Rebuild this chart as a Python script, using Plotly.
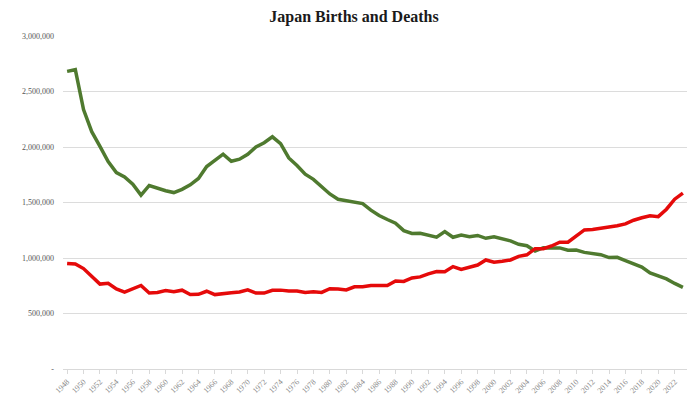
import plotly.graph_objects as go

years = list(range(1948, 2024))
births = [2681624, 2696638, 2337507, 2137689, 2005162, 1868040, 1769580, 1730692, 1665278, 1566713,
          1653469, 1626088, 1606041, 1589372, 1618616, 1659521, 1716761, 1823697, 1880000, 1935647,
          1871839, 1889815, 1934239, 2000973, 2038682, 2091983, 2029989, 1901440, 1832617, 1755100,
          1708643, 1642580, 1576889, 1529455, 1515392, 1508687, 1489780, 1431577, 1382946, 1346658,
          1314006, 1246802, 1221585, 1223245, 1208989, 1188282, 1238328, 1187064, 1206555, 1191665,
          1203147, 1177669, 1190547, 1170662, 1153855, 1123610, 1110721, 1062530, 1092674, 1089818,
          1091156, 1070036, 1071304, 1050806, 1037231, 1029816, 1003539, 1005677, 976978, 946146,
          918400, 865239, 840835, 811622, 770759, 735000]
deaths = [950610, 945444, 904876, 838998, 765068, 772547, 721491, 693523, 724460, 752445,
          684189, 689959, 706599, 695644, 710265, 670770, 673067, 700438, 670342, 675006,
          686555, 693787, 712962, 684521, 683751, 709416, 710510, 702275, 703270, 690074,
          695821, 689664, 722801, 720262, 711883, 740038, 740247, 752283, 750620, 751172,
          793014, 788594, 820305, 829797, 856643, 878532, 875933, 922139, 896211, 913402,
          936484, 982031, 961653, 970331, 982379, 1014951, 1028602, 1083796, 1084451, 1108334,
          1142407, 1141865, 1197014, 1253066, 1256359, 1268436, 1273025, 1290444, 1307748, 1340567,
          1362470, 1381093, 1372755, 1439856, 1530000, 1585000]
y_ticks = [0, 500000, 1000000, 1500000, 2000000, 2500000, 3000000]
y_labels = ["-", "500,000", "1,000,000", "1,500,000", "2,000,000", "2,500,000", "3,000,000"]
x_ticks = list(range(1948, 2023, 2))

fig = go.Figure()
fig.add_trace(go.Scatter(x=years, y=births, mode="lines", name="Births",
                         line=dict(color="#4f7a2f", width=3.5)))
fig.add_trace(go.Scatter(x=years, y=deaths, mode="lines", name="Deaths",
                         line=dict(color="#e50a0a", width=3.5)))

fig.add_shape(type="line", xref="paper", yref="paper", x0=1.016, x1=1.016,
              y0=-0.075, y1=1.084, line=dict(color="#e2e2e2", width=1))

fig.update_layout(
    width=692, height=386,
    margin=dict(l=55, r=13, t=28, b=25),
    paper_bgcolor="white", plot_bgcolor="white",
    showlegend=False,
    title=dict(text="<b>Japan Births and Deaths</b>", x=0.5, xanchor="center",
               y=0.994, yanchor="top", pad=dict(t=0),
               font=dict(family="Liberation Serif", size=16, color="#1a1a1a")),
    xaxis=dict(range=[1947.5, 2023.5], tickmode="array", tickvals=x_ticks,
               ticktext=[str(v) for v in x_ticks], tickangle=-45, automargin=False,
               tickfont=dict(family="Liberation Serif", size=8, color="#8a8a8a"),
               showgrid=False, zeroline=False, showline=True, linecolor="#d9d9d9",
               linewidth=1, ticks="outside", ticklen=4, tickcolor="#d9d9d9"),
    yaxis=dict(range=[0, 3000000], tickmode="array", tickvals=y_ticks, ticktext=y_labels,
               automargin=False,
               tickfont=dict(family="Liberation Serif", size=8, color="#555555"),
               showgrid=True, gridcolor="#dcdcdc", gridwidth=1, zeroline=False,
               showline=False, ticks="", ticklabelstandoff=8),
)

fig.write_html("out.html")
